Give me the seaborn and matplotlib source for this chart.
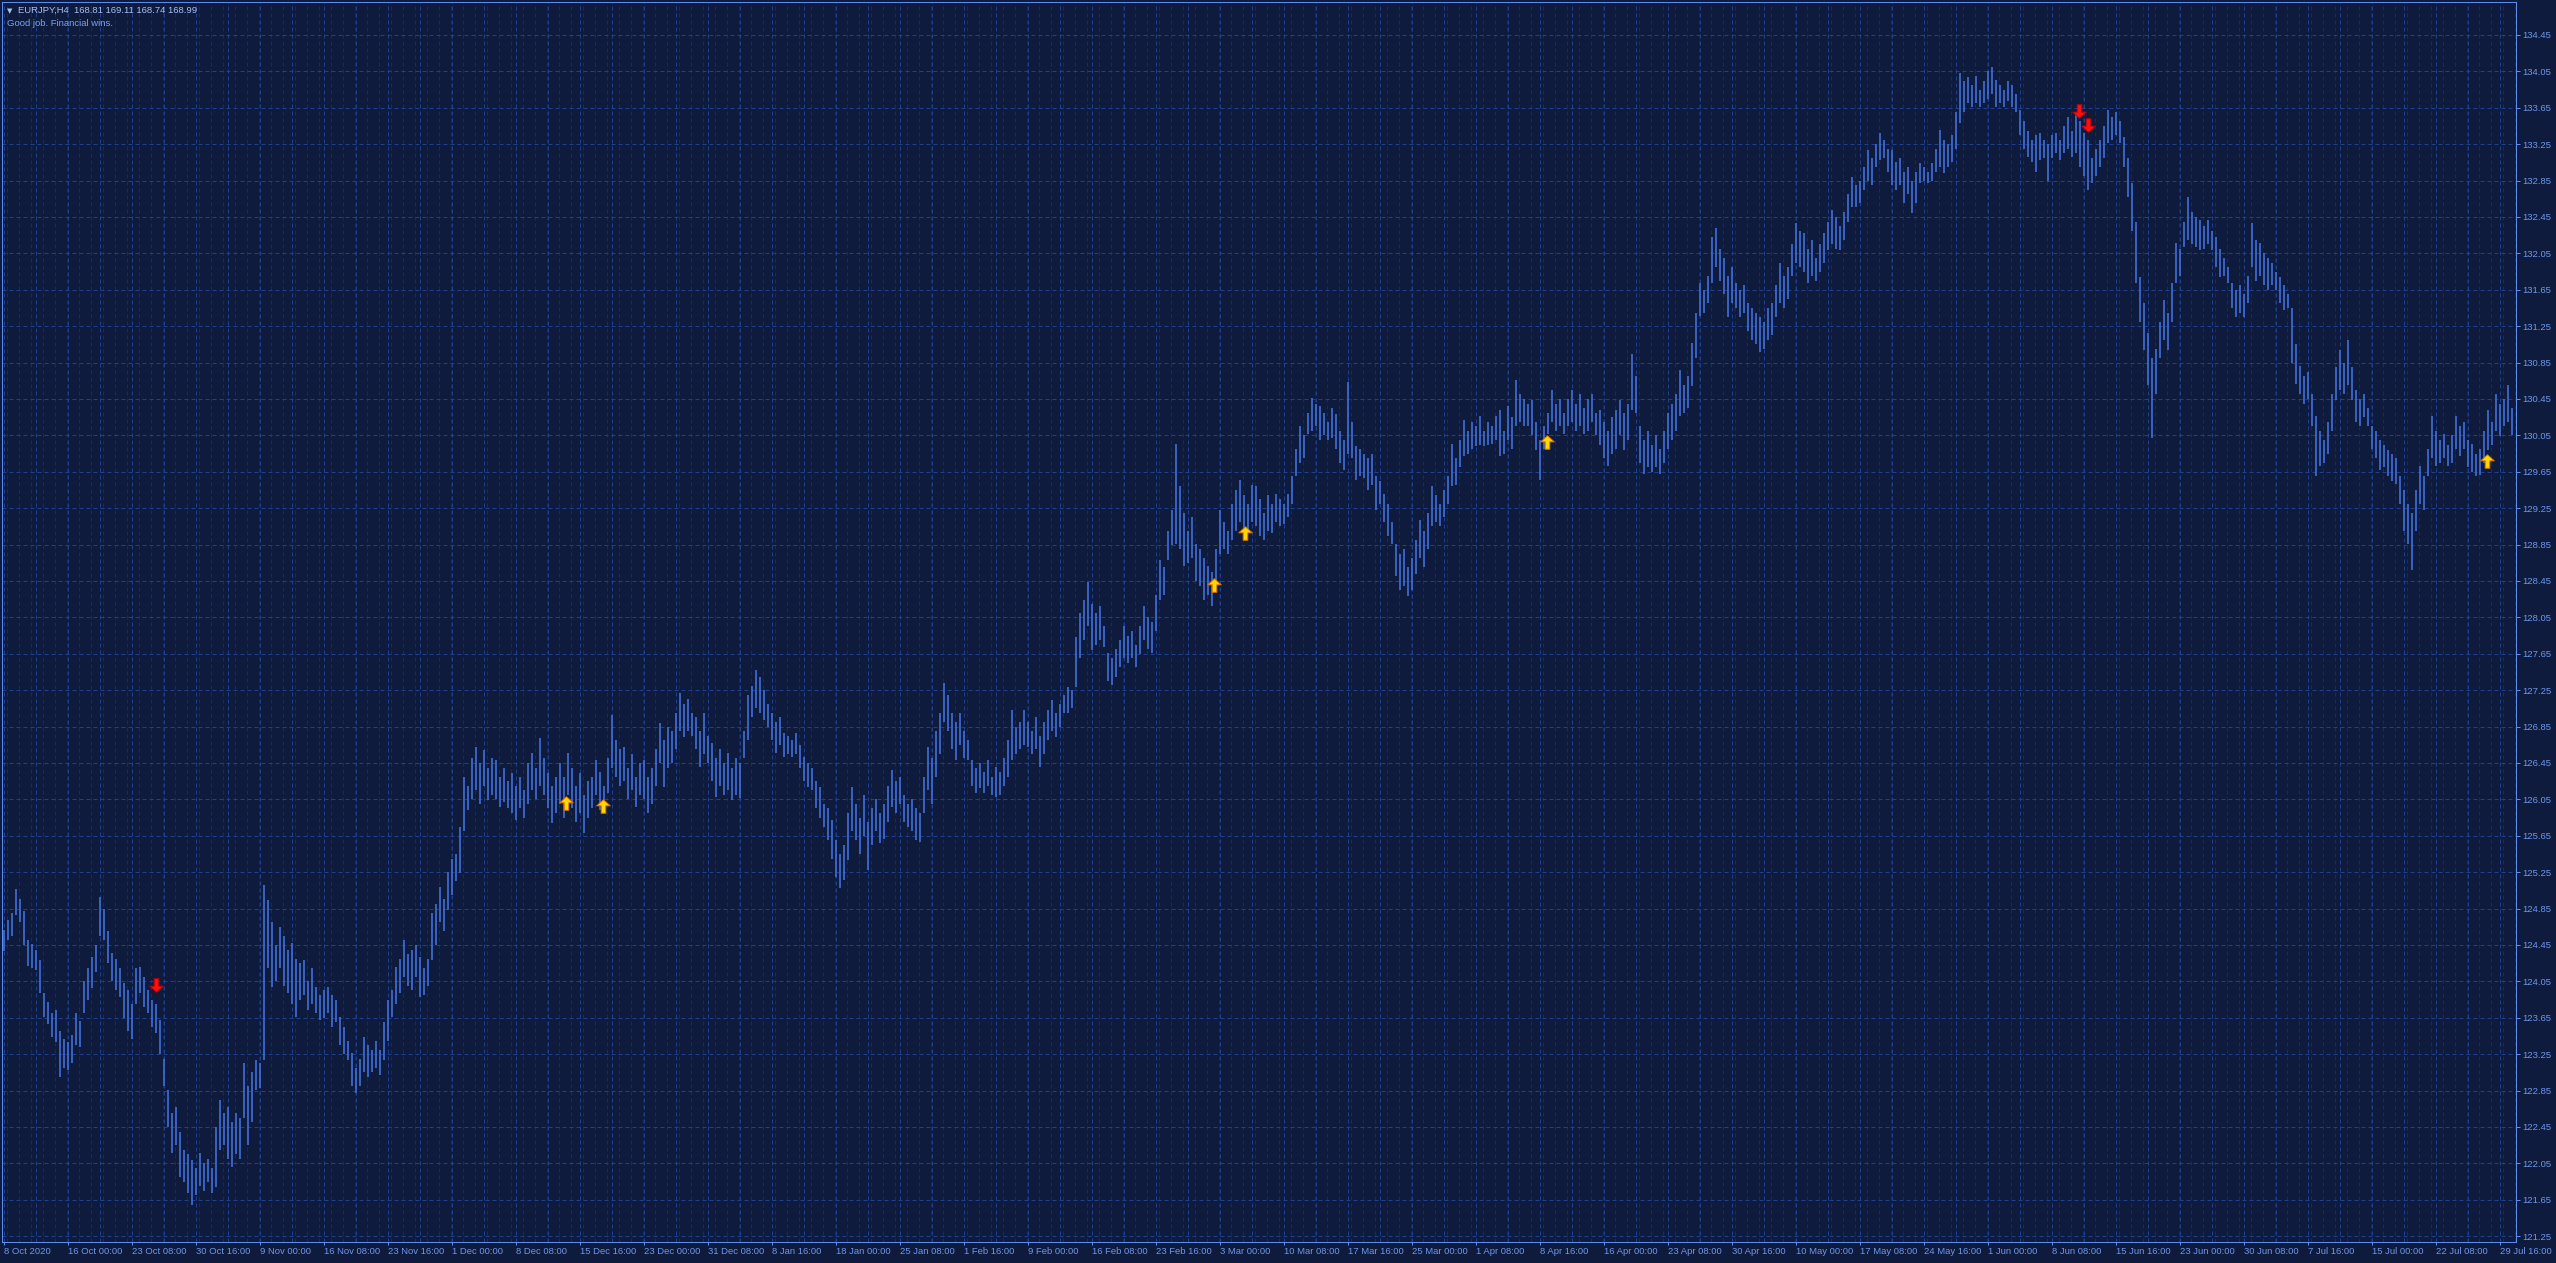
import numpy as np
import pandas as pd
import matplotlib
matplotlib.use("Agg")
import matplotlib.pyplot as plt
from matplotlib.path import Path
import seaborn as sns

# ---------------- data ----------------
symbol_line = "EURJPY,H4  168.81 169.11 168.74 168.99"
comment_line = "Good job. Financial wins."

highs = [
    124.62,124.72,124.80,125.06,124.95,124.82,124.50,124.46,124.40,124.28,
    123.92,123.82,123.70,123.74,123.50,123.42,123.38,123.46,123.70,123.62,
    124.05,124.20,124.32,124.45,124.98,124.85,124.60,124.36,124.30,124.20,
    124.03,123.95,123.80,124.20,124.21,124.10,123.96,123.85,123.80,123.63,
    123.20,122.86,122.60,122.67,122.40,122.20,122.15,122.09,122.00,122.16,
    122.05,122.10,122.00,122.45,122.75,122.60,122.67,122.50,122.60,122.55,
    123.15,122.90,123.05,123.19,123.15,125.11,124.94,124.70,124.45,124.65,
    124.55,124.40,124.47,124.30,124.25,124.29,124.05,124.20,123.99,123.90,
    123.95,123.99,123.90,123.85,123.66,123.55,123.40,123.26,123.10,123.20,
    123.44,123.35,123.30,123.40,123.30,123.60,123.85,123.95,124.21,124.30,
    124.50,124.35,124.40,124.45,124.32,124.20,124.30,124.80,124.90,125.09,
    124.95,125.25,125.40,125.45,125.75,126.30,126.20,126.50,126.63,126.45,
    126.59,126.40,126.50,126.48,126.30,126.40,126.25,126.34,126.20,126.30,
    126.15,126.45,126.56,126.40,126.72,126.50,126.34,126.20,126.30,126.45,
    126.30,126.56,126.40,126.20,126.34,126.10,126.25,126.30,126.48,126.35,
    126.20,126.50,126.98,126.70,126.60,126.63,126.40,126.55,126.30,126.45,
    126.48,126.30,126.40,126.60,126.89,126.70,126.85,126.80,127.00,127.22,
    127.10,127.15,127.00,126.95,126.80,127.00,126.75,126.67,126.50,126.60,
    126.45,126.56,126.40,126.50,126.45,126.80,127.20,127.30,127.47,127.40,
    127.25,127.10,127.00,126.90,126.95,126.78,126.75,126.70,126.78,126.65,
    126.52,126.45,126.40,126.25,126.19,126.00,125.95,125.82,125.60,125.45,
    125.55,125.90,126.19,126.00,125.85,126.10,125.80,125.95,126.05,125.90,
    126.00,126.20,126.37,126.25,126.30,126.10,126.00,126.05,125.95,125.90,
    126.30,126.63,126.50,126.80,127.00,127.33,127.20,127.00,126.90,127.00,
    126.80,126.70,126.48,126.40,126.45,126.35,126.48,126.30,126.41,126.35,
    126.50,126.70,127.03,126.85,126.90,127.03,126.90,126.80,126.95,126.75,
    126.90,127.03,127.14,127.00,127.10,127.20,127.29,127.25,127.84,128.10,
    128.24,128.44,128.20,128.10,128.17,127.95,127.66,127.60,127.70,127.80,
    127.95,127.85,127.90,127.75,127.95,128.17,128.05,128.00,128.30,128.68,
    128.60,129.00,129.23,129.96,129.49,129.20,129.00,129.15,128.86,128.80,
    128.70,128.61,128.55,128.80,129.23,129.10,129.00,129.30,129.45,129.56,
    129.40,129.30,129.50,129.49,129.35,129.20,129.40,129.30,129.41,129.35,
    129.30,129.41,129.60,129.90,130.15,130.05,130.30,130.46,130.40,130.37,
    130.30,130.20,130.35,130.29,130.10,130.00,130.64,130.20,129.93,129.90,
    129.85,129.80,129.85,129.60,129.55,129.41,129.30,129.10,128.86,128.75,
    128.80,128.60,128.70,128.90,129.12,129.00,129.20,129.49,129.40,129.30,
    129.45,129.60,129.96,129.80,130.00,130.22,130.10,130.20,130.15,130.26,
    130.10,130.20,130.15,130.26,130.33,130.10,130.37,130.25,130.66,130.50,
    130.45,130.40,130.44,130.20,130.00,130.15,130.30,130.55,130.40,130.45,
    130.30,130.45,130.55,130.40,130.50,130.35,130.45,130.50,130.30,130.33,
    130.20,130.10,130.25,130.33,130.44,130.30,130.40,130.95,130.70,130.15,
    130.00,130.10,129.95,130.05,129.90,130.10,130.30,130.40,130.50,130.77,
    130.60,130.70,131.06,131.40,131.72,131.65,131.80,132.23,132.33,132.10,
    132.00,131.80,131.90,131.72,131.65,131.70,131.50,131.45,131.40,131.35,
    131.30,131.45,131.50,131.70,131.94,131.80,131.90,132.15,132.38,132.30,
    132.27,132.10,132.20,132.00,132.15,132.27,132.40,132.53,132.45,132.35,
    132.50,132.70,132.89,132.80,132.85,133.00,133.19,133.10,133.25,133.37,
    133.30,133.20,133.19,133.05,133.10,132.95,133.00,132.85,132.95,133.04,
    133.00,132.95,133.04,133.20,133.41,133.30,133.25,133.35,133.60,134.03,
    133.95,133.99,133.90,134.00,133.85,133.95,134.05,134.10,133.96,133.90,
    133.85,133.95,133.90,133.80,133.63,133.50,133.40,133.30,133.35,133.37,
    133.30,133.25,133.35,133.37,133.30,133.45,133.55,133.40,133.60,133.50,
    133.37,133.30,133.10,133.20,133.30,133.45,133.63,133.55,133.60,133.50,
    133.33,133.10,132.82,132.40,131.79,131.50,131.17,130.90,131.00,131.30,
    131.54,131.40,131.72,132.16,132.10,132.40,132.67,132.50,132.45,132.42,
    132.35,132.42,132.30,132.23,132.10,132.00,131.90,131.72,131.65,131.70,
    131.60,131.80,132.38,132.20,132.16,132.05,132.00,131.95,131.85,131.79,
    131.70,131.60,131.45,131.05,130.81,130.70,130.75,130.50,130.26,130.10,
    130.00,130.20,130.50,130.80,130.99,130.85,131.10,130.80,130.55,130.45,
    130.50,130.35,130.15,130.10,130.00,129.95,129.89,129.85,129.80,129.60,
    129.45,129.30,129.20,129.45,129.71,129.60,129.90,130.26,130.10,130.00,
    130.07,129.95,130.05,130.26,130.15,130.20,130.00,129.96,129.85,129.90,
    130.10,130.33,130.20,130.51,130.40,130.45,130.60,130.35,
]

lows = [
    124.38,124.50,124.55,124.78,124.70,124.45,124.22,124.20,124.18,123.92,
    123.66,123.58,123.44,123.38,123.00,123.10,123.08,123.15,123.35,123.33,
    123.70,123.85,123.98,124.15,124.55,124.50,124.25,124.05,123.95,123.88,
    123.65,123.50,123.42,123.80,123.92,123.77,123.70,123.55,123.48,123.25,
    122.90,122.45,122.16,122.25,121.90,121.85,121.72,121.59,121.70,121.80,
    121.75,121.85,121.72,121.79,122.20,122.25,122.10,122.01,122.15,122.10,
    122.55,122.25,122.50,122.86,122.88,123.19,124.20,123.99,124.05,124.20,
    124.00,123.92,123.80,123.66,123.85,123.90,123.74,123.80,123.70,123.63,
    123.65,123.70,123.55,123.60,123.35,123.25,123.19,122.90,122.82,122.90,
    123.05,123.00,123.05,123.10,123.02,123.19,123.40,123.66,123.80,123.92,
    124.10,124.00,123.95,124.10,123.88,123.90,124.00,124.29,124.45,124.70,
    124.60,124.83,125.00,125.15,125.24,125.70,125.93,126.05,126.15,126.00,
    126.20,126.04,126.10,126.05,125.97,126.02,125.95,125.90,125.82,125.95,
    125.85,126.00,126.15,126.05,126.20,126.10,125.95,125.79,125.90,126.00,
    125.85,126.10,125.95,125.80,125.90,125.68,125.85,125.95,126.10,125.93,
    125.90,126.12,126.40,126.30,126.20,126.25,126.05,126.15,125.97,126.10,
    126.05,125.90,126.00,126.20,126.45,126.19,126.40,126.45,126.60,126.80,
    126.74,126.80,126.75,126.60,126.41,126.55,126.45,126.25,126.08,126.20,
    126.10,126.15,126.04,126.10,126.06,126.50,126.70,126.95,127.05,127.00,
    126.92,126.85,126.70,126.56,126.65,126.52,126.55,126.52,126.55,126.40,
    126.25,126.19,126.15,125.95,125.85,125.75,125.60,125.40,125.20,125.08,
    125.16,125.38,125.70,125.60,125.45,125.65,125.27,125.55,125.70,125.57,
    125.62,125.80,125.97,125.90,126.00,125.80,125.75,125.70,125.60,125.58,
    125.90,126.15,126.00,126.30,126.55,126.90,126.80,126.60,126.48,126.65,
    126.50,126.48,126.20,126.12,126.18,126.12,126.20,126.10,126.08,126.10,
    126.20,126.30,126.48,126.55,126.60,126.65,126.63,126.55,126.60,126.41,
    126.55,126.70,126.80,126.74,126.85,127.00,127.00,127.05,127.29,127.60,
    127.80,127.95,127.69,127.75,127.80,127.73,127.35,127.31,127.40,127.51,
    127.60,127.55,127.60,127.51,127.65,127.80,127.70,127.66,127.90,128.24,
    128.30,128.68,128.85,128.86,128.80,128.61,128.65,128.70,128.45,128.40,
    128.24,128.30,128.17,128.40,128.75,128.80,128.75,128.90,129.00,129.10,
    128.97,129.00,129.10,129.05,128.95,128.90,129.00,128.98,129.10,129.05,
    129.08,129.15,129.30,129.60,129.75,129.80,130.07,130.10,130.15,130.00,
    130.05,130.00,130.02,129.90,129.75,129.67,129.85,129.80,129.56,129.60,
    129.58,129.45,129.50,129.23,129.30,129.10,128.95,128.86,128.50,128.35,
    128.40,128.28,128.35,128.53,128.70,128.60,128.80,129.05,129.10,129.05,
    129.15,129.30,129.49,129.50,129.70,129.82,129.85,129.90,129.93,129.95,
    129.93,129.95,129.96,130.00,129.82,129.85,130.00,129.90,130.15,130.20,
    130.15,130.15,130.05,129.89,129.56,129.90,130.07,130.20,130.10,130.15,
    130.07,130.15,130.20,130.10,130.15,130.07,130.10,130.20,130.05,129.95,
    129.80,129.71,129.85,129.90,130.05,129.89,130.00,130.33,130.30,129.75,
    129.63,129.70,129.65,129.70,129.63,129.75,129.90,130.00,130.10,130.26,
    130.30,130.35,130.59,130.90,131.36,131.40,131.50,131.72,131.90,131.75,
    131.60,131.35,131.50,131.45,131.35,131.40,131.20,131.10,131.05,130.97,
    131.00,131.10,131.15,131.35,131.50,131.45,131.55,131.80,131.95,131.90,
    131.85,131.72,131.80,131.75,131.85,131.95,132.09,132.15,132.10,132.09,
    132.20,132.40,132.56,132.56,132.60,132.75,132.85,132.80,133.00,133.08,
    133.10,132.95,132.80,132.75,132.80,132.60,132.70,132.49,132.60,132.82,
    132.85,132.82,132.85,132.95,133.00,132.93,133.00,133.05,133.20,133.48,
    133.60,133.70,133.66,133.70,133.66,133.70,133.75,133.80,133.66,133.70,
    133.66,133.72,133.66,133.60,133.35,133.20,133.11,133.05,132.95,133.08,
    133.10,132.85,133.10,133.15,133.08,133.15,133.20,133.11,133.15,133.00,
    132.90,132.75,132.82,132.90,133.00,133.10,133.26,133.30,133.35,133.26,
    133.00,132.67,132.30,131.72,131.30,130.99,130.60,130.02,130.50,130.90,
    131.10,130.99,131.30,131.72,131.80,132.12,132.20,132.15,132.12,132.09,
    132.10,132.15,132.09,131.90,131.79,131.80,131.72,131.45,131.35,131.40,
    131.35,131.50,131.90,131.75,131.80,131.70,131.65,131.70,131.65,131.50,
    131.43,131.45,130.85,130.62,130.50,130.40,130.45,130.15,129.60,129.71,
    129.75,129.85,130.10,130.44,130.55,130.50,130.60,130.44,130.20,130.15,
    130.25,130.15,129.90,129.80,129.67,129.70,129.60,129.55,129.52,129.30,
    129.00,128.86,128.57,129.00,129.30,129.23,129.60,129.80,129.71,129.75,
    129.80,129.71,129.75,129.90,129.82,129.90,129.70,129.65,129.60,129.62,
    129.75,129.89,129.95,130.10,130.04,130.15,130.20,130.05,
]

price_ticks = [121.25, 121.65, 122.05, 122.45, 122.85, 123.25, 123.65, 124.05,
               124.45, 124.85, 125.25, 125.65, 126.05, 126.45, 126.85, 127.25,
               127.65, 128.05, 128.45, 128.85, 129.25, 129.65, 130.05, 130.45,
               130.85, 131.25, 131.65, 132.05, 132.45, 132.85, 133.25, 133.65,
               134.05, 134.45]

date_labels = ["8 Oct 2020", "16 Oct 00:00", "23 Oct 08:00", "30 Oct 16:00",
               "9 Nov 00:00", "16 Nov 08:00", "23 Nov 16:00", "1 Dec 00:00",
               "8 Dec 08:00", "15 Dec 16:00", "23 Dec 00:00", "31 Dec 08:00",
               "8 Jan 16:00", "18 Jan 00:00", "25 Jan 08:00", "1 Feb 16:00",
               "9 Feb 00:00", "16 Feb 08:00", "23 Feb 16:00", "3 Mar 00:00",
               "10 Mar 08:00", "17 Mar 16:00", "25 Mar 00:00", "1 Apr 08:00",
               "8 Apr 16:00", "16 Apr 00:00", "23 Apr 08:00", "30 Apr 16:00",
               "10 May 00:00", "17 May 08:00", "24 May 16:00", "1 Jun 00:00",
               "8 Jun 08:00", "15 Jun 16:00", "23 Jun 00:00", "30 Jun 08:00",
               "7 Jul 16:00", "15 Jul 00:00", "22 Jul 08:00", "29 Jul 16:00"]

up_signal_bar = [140.5, 149.75, 302.5, 310.25, 385.75, 620.75]
up_signal_price = [126.01, 125.98, 128.41, 128.98, 129.98, 129.77]
down_signal_bar = [38.0, 518.75, 521.0]
down_signal_price = [124.01, 133.61, 133.46]

# ---------------- style ----------------
W, H, DPI = 2556, 1263, 100
PX = 72.0 / DPI
BG = "#0f1b3d"
BAR = "#3f6cd6"
GRID_BLUE = "#1f3f90"
GRID_PURPLE = "#40107c"
SPINE = "#5d8cf0"
TXT = "#6d97ec"

sns.set_theme(style="dark")
plt.rcParams["font.family"] = ["Liberation Sans", "DejaVu Sans"]
plt.rcParams["lines.scale_dashes"] = True

fig = plt.figure(figsize=(W / DPI, H / DPI), dpi=DPI, facecolor=BG)
ax = fig.add_axes([2 / W, 1 - 1242 / H, (2516 - 2) / W, (1242 - 2) / H])
ax.set_facecolor(BG)

n = len(highs)
bars = pd.DataFrame({"bar": np.arange(n), "high": highs, "low": lows})

y_top = 134.45 + 33 / 91.0
y_bot = 134.45 - 1207 / 91.0
x_left, x_right = -0.5, 628.0

# day separators (purple) and grid (blue)
day_sep = np.arange(0.825, x_right, 3.0)
ax.vlines(day_sep, y_bot, y_top, colors=GRID_PURPLE, linewidth=PX,
          linestyles=(0, (4, 3)), zorder=1)
grid_x = np.arange(-0.125, x_right, 8.0)
ax.vlines(grid_x, y_bot, y_top, colors=GRID_BLUE, linewidth=PX,
          linestyles=(0, (4, 3)), zorder=1.2)
ax.hlines(price_ticks, x_left, x_right, colors=GRID_BLUE, linewidth=PX,
          linestyles=(0, (4, 3)), zorder=1.2)

# price bars
ax.vlines(bars["bar"], bars["low"], bars["high"], colors=BAR,
          linewidth=1.7 * PX, zorder=3)

# signal arrows
up_path = Path([(-1, 0.1), (0, 1), (1, 0.1), (0.34, 0.1), (0.34, -1),
                (-0.34, -1), (-0.34, 0.1), (-1, 0.1)], closed=True)
down_path = Path([(-1, -0.1), (0, -1), (1, -0.1), (0.34, -0.1), (0.34, 1),
                  (-0.34, 1), (-0.34, -0.1), (-1, -0.1)], closed=True)
up_df = pd.DataFrame({"bar": up_signal_bar, "price": up_signal_price})
down_df = pd.DataFrame({"bar": down_signal_bar, "price": down_signal_price})
sns.scatterplot(data=up_df, x="bar", y="price", marker=up_path, s=95,
                color="#ffd800", edgecolor="#e07000", linewidth=0.7,
                ax=ax, zorder=6, legend=False)
sns.scatterplot(data=down_df, x="bar", y="price", marker=down_path, s=95,
                color="#ff1010", edgecolor="#c00000", linewidth=0.7,
                ax=ax, zorder=6, legend=False)

ax.set_xlim(x_left, x_right)
ax.set_ylim(y_bot, y_top)
ax.set_xlabel("")
ax.set_ylabel("")
ax.grid(False)

# axes ticks
ax.yaxis.tick_right()
ax.set_yticks(price_ticks)
ax.set_yticklabels([f"{p:.2f}" for p in price_ticks])
ax.tick_params(axis="y", which="major", right=True, left=False,
               direction="out", length=4 * PX, width=PX, color=SPINE,
               pad=2 * PX, labelsize=6.8, labelcolor=TXT)

tick_pos = [16 * j - 0.125 for j in range(len(date_labels))]
ax.set_xticks(tick_pos)
ax.set_xticklabels(date_labels, ha="left")
ax.tick_params(axis="x", which="major", bottom=True, top=False,
               direction="out", length=3 * PX, width=PX, color=SPINE,
               pad=1.5 * PX, labelsize=6.8, labelcolor=TXT)

for sp in ax.spines.values():
    sp.set_visible(True)
    sp.set_color(SPINE)
    sp.set_linewidth(PX)

# header texts
fig.text(7 / W, 1 - 11 / H, "\u25bc", fontsize=5, color="#a6bff5",
         va="center", ha="left", family=["DejaVu Sans"])
fig.text(18 / W, 1 - 10.7 / H, symbol_line, fontsize=6.8, color="#a6bff5",
         va="center", ha="left")
fig.text(7 / W, 1 - 24 / H, comment_line, fontsize=6.8, color="#7aa0ee",
         va="center", ha="left")

fig.savefig("out.png", dpi=DPI, facecolor=BG)
